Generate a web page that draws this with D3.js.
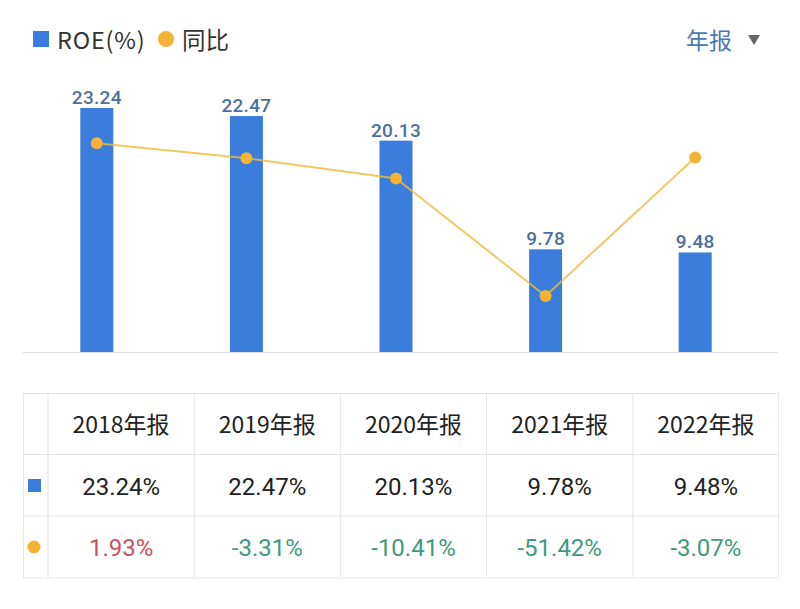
<!DOCTYPE html>
<html><head><meta charset="utf-8">
<script src="https://cdn.jsdelivr.net/npm/d3@7"></script>
<style>body{margin:0;background:#fff;}svg{display:block;}</style>
</head><body>
<svg id="c" width="800" height="609"></svg>
<script>
const categories = ["2018年报","2019年报","2020年报","2021年报","2022年报"];
const roe = [23.24, 22.47, 20.13, 9.78, 9.48];
const yoy = [1.93, -3.31, -10.41, -51.42, -3.07];
const roeLabels = ["23.24","22.47","20.13","9.78","9.48"];
const roeTable = ["23.24%","22.47%","20.13%","9.78%","9.48%"];
const yoyTable = ["1.93%","-3.31%","-10.41%","-51.42%","-3.07%"];

const svg = d3.select("#c");
const numFont = "Roboto, 'Noto Sans', sans-serif";
const cjkFont = "'Noto Sans CJK SC', 'Noto Sans', sans-serif";
const BLUE = "#3b7ddd", ORANGE = "#f5b335";

// legend
svg.append("rect").attr("x",33).attr("y",31).attr("width",16).attr("height",16).attr("fill",BLUE);
svg.append("text").attr("x",57).attr("y",48.5).attr("font-family",cjkFont).attr("font-size",23.5).attr("letter-spacing",0.8).attr("fill","#333").text("ROE(%)");
svg.append("circle").attr("cx",166).attr("cy",39).attr("r",8).attr("fill",ORANGE);
svg.append("text").attr("x",182).attr("y",48.5).attr("font-family",cjkFont).attr("font-size",23.5).attr("fill","#333").text("同比");
svg.append("text").attr("x",686).attr("y",48.5).attr("font-family",cjkFont).attr("font-size",23).attr("fill","#4a78b5").text("年报");
svg.append("path").attr("d","M748,35 L760,35 L754,45 Z").attr("fill","#666");

// scales
const x = d3.scaleBand().domain(categories).range([22,770]).paddingInner(0.78).paddingOuter(0.39);
const xc = d => x(d) + x.bandwidth()/2;
const bw = 33;
const y = d3.scaleLinear().domain([0,24]).range([352,100]);
const y2 = d3.scaleLinear().domain([-71,17]).range([352,100]);

// axis line
svg.append("line").attr("x1",23).attr("x2",778).attr("y1",352.5).attr("y2",352.5).attr("stroke","#dcdcdc").attr("stroke-width",1);

// bars
svg.selectAll(".bar").data(roe).enter().append("rect")
  .attr("x",(d,i)=>xc(categories[i])-bw/2).attr("width",bw)
  .attr("y",d=>y(d)).attr("height",d=>352-y(d)).attr("fill",BLUE);

svg.selectAll(".bl").data(roe).enter().append("text")
  .attr("x",(d,i)=>xc(categories[i])).attr("y",d=>y(d)-4)
  .attr("text-anchor","middle").attr("font-family",numFont).attr("font-size",19).attr("font-weight",500)
  .attr("letter-spacing",0.3).attr("fill","#4d6f9e").text((d,i)=>roeLabels[i]);

// line
const line = d3.line().x((d,i)=>xc(categories[i])).y(d=>y2(d));
svg.append("path").datum(yoy).attr("d",line).attr("fill","none")
  .attr("stroke","#ecbc3c").attr("stroke-opacity",0.8).attr("stroke-width",2);
svg.selectAll(".pt").data(yoy).enter().append("circle")
  .attr("cx",(d,i)=>xc(categories[i])).attr("cy",d=>y2(d)).attr("r",6).attr("fill",ORANGE);

// table
const tx0 = 23, tx1 = 48, tx2 = 779;
const rows = [393, 454.5, 516, 577.5];
const tcol = d3.scaleBand().domain(categories).range([tx1,tx2]);
const g = svg.append("g");
g.append("rect").attr("x",tx0+0.5).attr("y",rows[0]+0.5).attr("width",tx2-tx0-1).attr("height",rows[3]-rows[0]).attr("fill","none").attr("stroke","#e6e6e6");
rows.slice(1,3).forEach(r=>g.append("line").attr("x1",tx0).attr("x2",tx2).attr("y1",r).attr("y2",r).attr("stroke","#e6e6e6"));
g.append("line").attr("x1",tx1).attr("x2",tx1).attr("y1",rows[0]).attr("y2",rows[3]).attr("stroke","#dedede");
categories.slice(1).forEach(c=>g.append("line").attr("x1",tcol(c)).attr("x2",tcol(c)).attr("y1",rows[0]).attr("y2",rows[3]).attr("stroke","#e6e6e6"));

categories.forEach((c,i)=>{
  const cx = tcol(c)+tcol.bandwidth()/2;
  g.append("text").attr("x",cx).attr("y",433).attr("text-anchor","middle")
    .attr("font-family",cjkFont).attr("font-size",23).attr("fill","#222").text(c);
  g.append("text").attr("x",cx).attr("y",495).attr("text-anchor","middle")
    .attr("font-family",numFont).attr("font-size",24).attr("fill","#222").text(roeTable[i]);
  g.append("text").attr("x",cx).attr("y",556).attr("text-anchor","middle")
    .attr("font-family",numFont).attr("font-size",24)
    .attr("fill", yoy[i] >= 0 ? "#c9525c" : "#3f9a7c").text(yoyTable[i]);
});
g.append("rect").attr("x",28).attr("y",479).attr("width",13).attr("height",13).attr("fill",BLUE);
g.append("circle").attr("cx",34).attr("cy",547).attr("r",6.5).attr("fill",ORANGE);
</script>
</body></html>
